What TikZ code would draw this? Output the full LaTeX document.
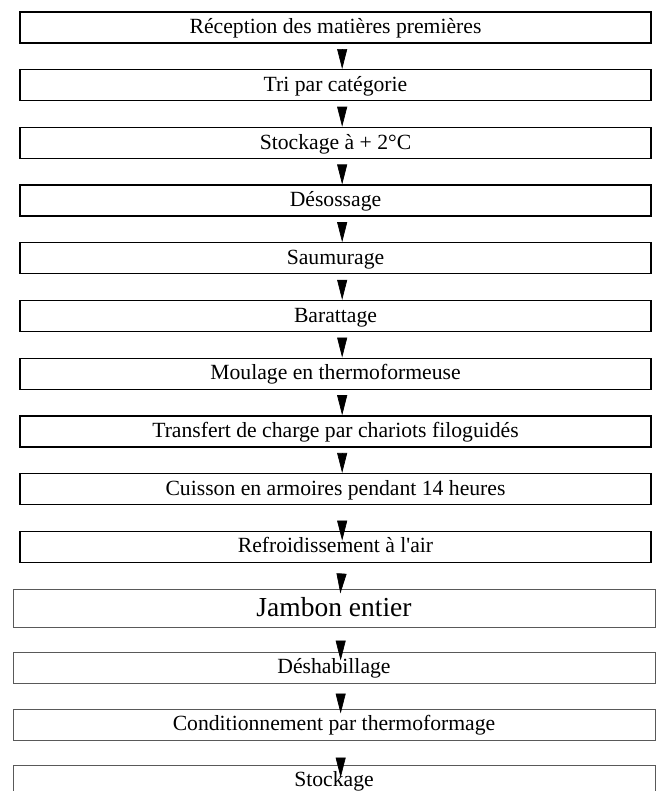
\documentclass[tikz,border=0pt]{standalone}
\usepackage{fontspec}
\setmainfont{Liberation Serif}
\usetikzlibrary{arrows.meta, positioning}

\tikzset{
  stepbox/.style={draw, line width=0.8pt, minimum width=378.6pt, minimum height=18.6pt,
    inner sep=0pt, text height=13pt, text depth=5.6pt, font=\fontsize{13}{15}\selectfont},
  laterbox/.style={stepbox, draw=black!65, line width=0.6pt, minimum width=385.2pt},
  flowarrow/.style={-{Triangle[length=12pt, width=6pt]}, line width=0.4pt},
}

\begin{document}
\begin{tikzpicture}[x=0.6pt, y=-0.6pt]
  \useasboundingbox (0,0) rectangle (656,791);
  % production line
  \foreach \n/\txt in {1/Réception des matières premières, 2/Tri par catégorie,
      3/Stockage à + 2°C, 4/Désossage, 5/Saumurage, 6/Barattage,
      7/Moulage en thermoformeuse, 8/Transfert de charge par chariots filoguidés,
      9/Cuisson en armoires pendant 14 heures, 10/Refroidissement à l\textquotesingle air} {
    \node[stepbox] (b\n) at (335.5, {27.5+57.7*(\n-1)}) {\txt};
  }
  % finished product
  \node[laterbox, minimum height=22.8pt, text height=16.2pt, text depth=6.6pt,
    font=\fontsize{16.5}{19}\selectfont] (b11) at (334,608) {Jambon entier};
  \node[laterbox] (b12) at (334,667.5) {Déshabillage};
  \node[laterbox] (b13) at (334,724.5) {Conditionnement par thermoformage};
  \node[laterbox] (b14) at (334,780.5) {Stockage};
  % arrows
  \foreach \a/\b/\o/\s in {1/2/0/4, 2/3/0/4, 3/4/0/4, 4/5/0/4, 5/6/0/4, 6/7/0/4,
      7/8/0/4, 8/9/0/4, 9/10/6/10, 10/11/3/7, 11/12/5.4/8.4, 12/13/3/6.6, 13/14/7.8/10.8} {
    \draw[flowarrow, shorten <=\s pt, shorten >=-\o pt]
      ([xshift=4pt]b\a.south) -- ([xshift=4pt]b\b.north);
  }
\end{tikzpicture}
\end{document}
